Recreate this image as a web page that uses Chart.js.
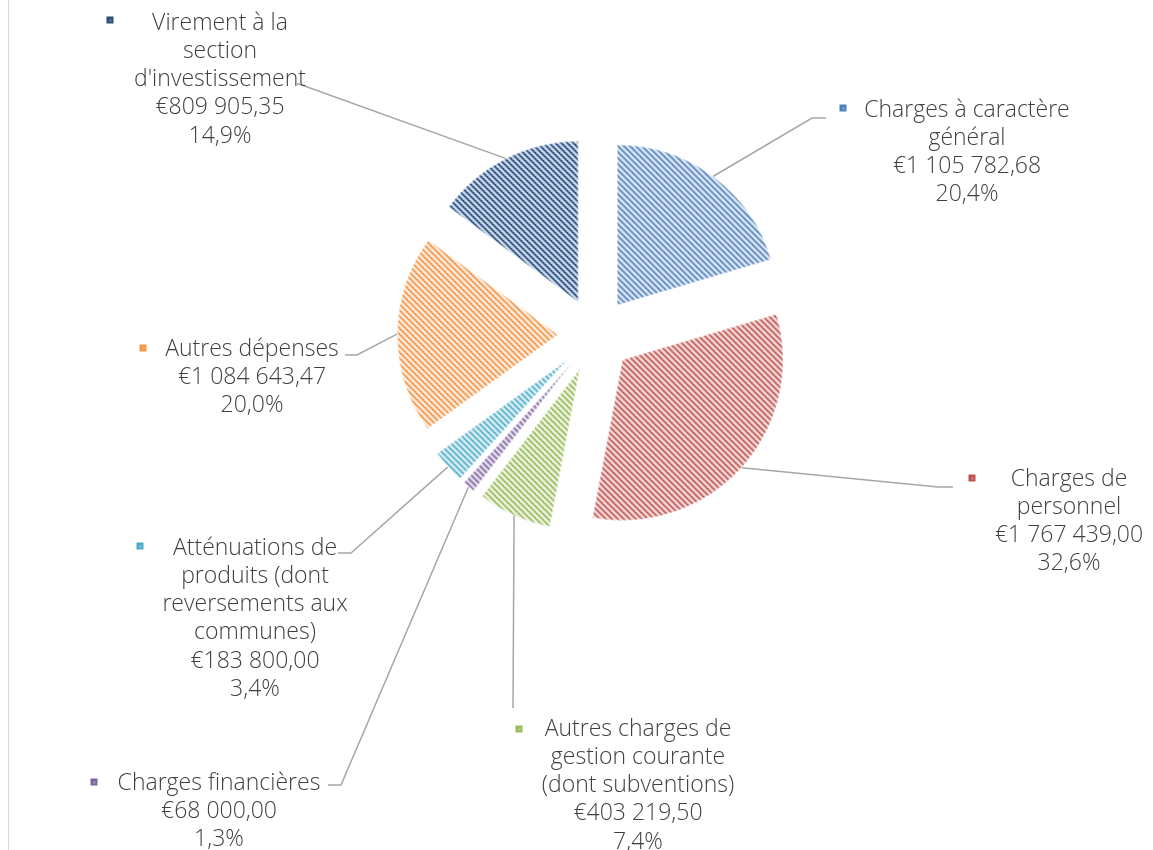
<!DOCTYPE html>
<html>
<head>
<meta charset="utf-8">
<script src="https://cdn.jsdelivr.net/npm/chart.js@4"></script>
<style>
  html, body { margin: 0; padding: 0; background: #fff; }
  #wrap { width: 1153px; height: 850px; position: relative; }
</style>
</head>
<body>
<div id="wrap"><canvas id="chart" width="1153" height="850"></canvas></div>
<script>
// data
const categories = [
  'Charges à caractère général',
  'Charges de personnel',
  'Autres charges de gestion courante (dont subventions)',
  'Charges financières',
  'Atténuations de produits (dont reversements aux communes)',
  'Autres dépenses',
  "Virement à la section d'investissement"
];
const amounts = [1105782.68, 1767439.00, 403219.50, 68000.00, 183800.00, 1084643.47, 809905.35];

// wrapped name lines as they appear in each label
const nameLines = [
  ['Charges à caractère', 'général'],
  ['Charges de', 'personnel'],
  ['Autres charges de', 'gestion courante', '(dont subventions)'],
  ['Charges financières'],
  ['Atténuations de', 'produits (dont', 'reversements aux', 'communes)'],
  ['Autres dépenses'],
  ['Virement à la', 'section', "d'investissement"]
];

// slice colours: light ground, dark hatch, mid hatch
const sliceBg  = ['#dce6f2', '#f2dcdb', '#ebf1de', '#e5e0ec', '#dbeef4', '#fde9d9', '#c6d5e8'];
const sliceFg  = ['#4f81bd', '#c0504d', '#9bbb59', '#8064a2', '#4bacc6', '#f79646', '#2c4d75'];
const sliceMid = ['#8eadd6', '#d68f8d', '#bdd394', '#ab98c4', '#8ccbdc', '#f9ba88', '#6a89b3'];

// label layout: text centre x, first line y, marker centre, leader bend and end
const labelPos = [
  { cx: 967,  y: 110, mx: 843, my: 108, bend: [812, 118], end: [826, 118] },
  { cx: 1069, y: 479, mx: 972, my: 478, bend: [938, 487], end: [953, 487] },
  { cx: 638,  y: 729, mx: 519, my: 729, bend: [513, 708], end: [513, 708] },
  { cx: 219,  y: 783, mx: 94,  my: 782, bend: [341, 785], end: [328, 785] },
  { cx: 255,  y: 548, mx: 140, my: 546, bend: [351, 553], end: [338, 553] },
  { cx: 252,  y: 349, mx: 143, my: 348, bend: [357, 355], end: [345, 355] },
  { cx: 220,  y: 23,  mx: 110, my: 20,  bend: [299, 84],  end: [297, 84] }
];

const EXPLODE = 37;

function makePattern(bg, fg, mid) {
  const n = 6;
  const c = document.createElement('canvas');
  c.width = n; c.height = n;
  const g = c.getContext('2d');
  g.fillStyle = bg;
  g.fillRect(0, 0, n, n);
  for (let i = 0; i < n; i++) {
    g.fillStyle = mid;
    g.fillRect((i + n - 1) % n, i, 1, 1);
    g.fillStyle = fg;
    g.fillRect(i, i, 1, 1);
    g.fillStyle = (i % 2) ? fg : mid;
    g.fillRect((i + 1) % n, i, 1, 1);
  }
  return g.createPattern(c, 'repeat');
}
const patterns = sliceBg.map((bg, i) => makePattern(bg, sliceFg[i], sliceMid[i]));

// explode every slice along its mid angle
const baseArcDraw = Chart.ArcElement.prototype.draw;
Chart.ArcElement.prototype.draw = function (ctx) {
  const mid = (this.startAngle + this.endAngle) / 2;
  ctx.save();
  ctx.translate(Math.cos(mid) * EXPLODE, Math.sin(mid) * EXPLODE);
  baseArcDraw.call(this, ctx);
  ctx.restore();
};

const total = amounts.reduce((a, b) => a + b, 0);

function fmtMoney(v) {
  const parts = v.toFixed(2).split('.');
  const int = parts[0].replace(/\B(?=(\d{3})+(?!\d))/g, ' ');
  return '€' + int + ',' + parts[1];
}
function fmtPct(v) {
  return (v / total * 100).toFixed(1).replace('.', ',') + '%';
}

const labelsPlugin = {
  id: 'pieLabels',
  afterDraw(chart) {
    const ctx = chart.ctx;
    const meta = chart.getDatasetMeta(0);
    ctx.save();
    // left border line of the chart frame
    ctx.strokeStyle = '#d9d9d9';
    ctx.lineWidth = 1;
    ctx.beginPath();
    ctx.moveTo(8.5, 0);
    ctx.lineTo(8.5, 850);
    ctx.stroke();

    meta.data.forEach((arc, i) => {
      const p = labelPos[i];
      const mid = (arc.startAngle + arc.endAngle) / 2;
      const r = arc.outerRadius + EXPLODE;
      const sx = arc.x + Math.cos(mid) * r;
      const sy = arc.y + Math.sin(mid) * r;

      ctx.strokeStyle = '#a6a6a6';
      ctx.lineWidth = 1.5;
      ctx.beginPath();
      ctx.moveTo(sx, sy);
      ctx.lineTo(p.bend[0], p.bend[1]);
      ctx.lineTo(p.end[0], p.end[1]);
      ctx.stroke();

      // marker
      ctx.fillStyle = sliceFg[i];
      ctx.fillRect(p.mx - 3.5, p.my - 3.5, 7, 7);
      ctx.fillStyle = sliceMid[i];
      ctx.fillRect(p.mx - 0.5, p.my - 0.5, 2, 2);

      const lines = nameLines[i].concat([fmtMoney(amounts[i]), fmtPct(amounts[i])]);
      ctx.fillStyle = '#3f3f3f';
      ctx.font = '300 23px "Open Sans", "Noto Sans", sans-serif';
      ctx.textAlign = 'center';
      ctx.textBaseline = 'middle';
      lines.forEach((t, k) => {
        ctx.fillText(t, p.cx, p.y + k * 28.3);
      });
    });
    ctx.restore();
  }
};

new Chart(document.getElementById('chart'), {
  type: 'pie',
  data: {
    labels: categories,
    datasets: [{
      data: amounts,
      backgroundColor: patterns,
      borderColor: 'rgba(255,255,255,0.35)',
      borderWidth: 1,
      borderAlign: 'inner',
      radius: 161
    }]
  },
  options: {
    responsive: false,
    animation: false,
    events: [],
    layout: { padding: { left: 37, right: 0, top: 0, bottom: 180 } },
    plugins: {
      legend: { display: false },
      tooltip: { enabled: false }
    }
  },
  plugins: [labelsPlugin]
});
</script>
</body>
</html>
